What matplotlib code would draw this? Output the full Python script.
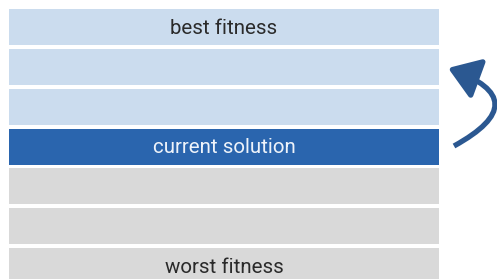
import matplotlib.pyplot as plt
from matplotlib.patches import FancyArrowPatch

# rows from top (best) to bottom (worst)
labels = ['best fitness', '', '', 'current solution', '', '', 'worst fitness']
kinds = ['better', 'better', 'better', 'current', 'worse', 'worse', 'worse']

colors = {'better': '#cbdcee', 'current': '#2a65ae', 'worse': '#d9d9d9'}
text_colors = {'better': '#2a2a2a', 'current': '#eef3fa', 'worse': '#2a2a2a'}

plt.rcParams['font.family'] = ['Roboto', 'DejaVu Sans']

fig = plt.figure(figsize=(4.97, 2.79), dpi=100)
ax = fig.add_axes([0, 0, 1, 1])
ax.set_xlim(0, 497)
ax.set_ylim(279, 0)
ax.axis('off')

pitch = 39.85
centers = [27 + pitch * i for i in range(len(labels))]

ax.barh(centers, 430, left=9, height=36,
        color=[colors[k] for k in kinds], edgecolor='none')

for y, lab, k in zip(centers, labels, kinds):
    if lab:
        ax.text(224, y + 1, lab, ha='center', va='center', fontsize=14.8,
                color=text_colors[k], fontweight='normal', zorder=5)

# curved arrow from current solution up towards better rows
arrow = FancyArrowPatch((454, 146), (448, 68), connectionstyle='arc3,rad=1.1',
                        arrowstyle='-|>,head_length=1.1,head_width=0.75',
                        mutation_scale=17, color='#2b5891', lw=3.8,
                        shrinkA=0, shrinkB=0, capstyle='butt')
ax.add_patch(arrow)

fig.savefig('out.png', dpi=100)
